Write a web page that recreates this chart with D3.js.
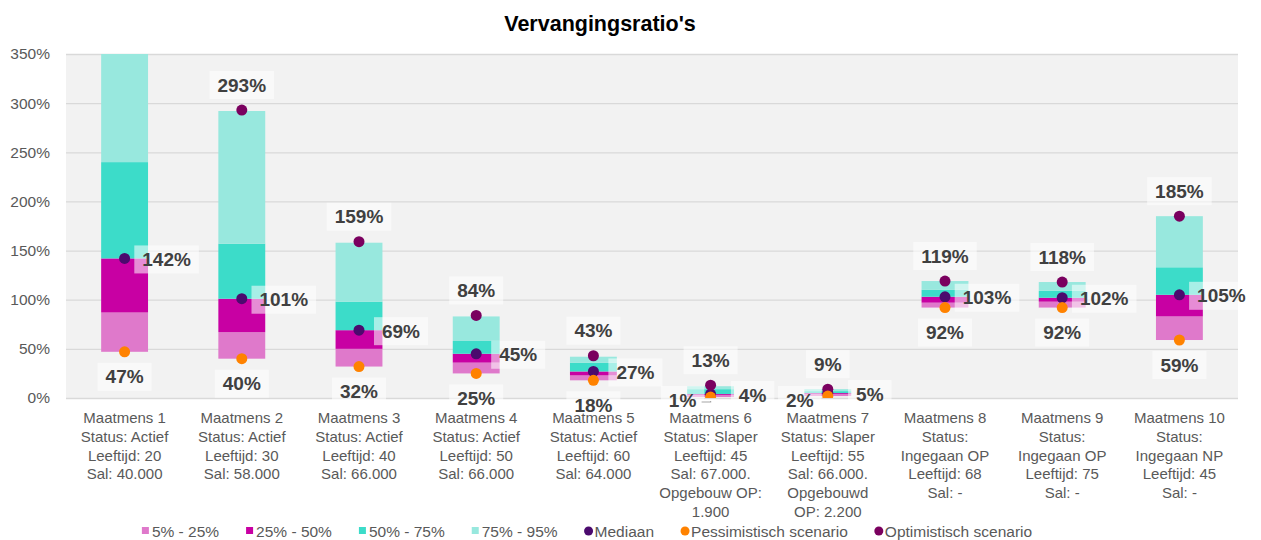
<!DOCTYPE html>
<html lang="nl">
<head>
  <meta charset="UTF-8">
  <title>Vervangingsratio's</title>
  <style>
    body { margin: 0; background: #fff; overflow: hidden; }
    svg { font-family: 'Liberation Sans', Arial, sans-serif; }
    .tick text { fill: #595959; }
    .lbl { font-weight: bold; fill: #404040; }
  </style>
</head>
<body>
  <svg width="1261" height="540"></svg>

  <script src="https://d3js.org/d3.v7.min.js"></script>
  <script>
    // categorieen (regels van het x-as label)
    var categories = [
      ["Maatmens 1", "Status: Actief", "Leeftijd: 20", "Sal: 40.000"],
      ["Maatmens 2", "Status: Actief", "Leeftijd: 30", "Sal: 58.000"],
      ["Maatmens 3", "Status: Actief", "Leeftijd: 40", "Sal: 66.000"],
      ["Maatmens 4", "Status: Actief", "Leeftijd: 50", "Sal: 66.000"],
      ["Maatmens 5", "Status: Actief", "Leeftijd: 60", "Sal: 64.000"],
      ["Maatmens 6", "Status: Slaper", "Leeftijd: 45", "Sal: 67.000.", "Opgebouw OP:", "1.900"],
      ["Maatmens 7", "Status: Slaper", "Leeftijd: 55", "Sal: 66.000.", "Opgebouwd", "OP: 2.200"],
      ["Maatmens 8", "Status:", "Ingegaan OP", "Leeftijd: 68", "Sal: -"],
      ["Maatmens 9", "Status:", "Ingegaan OP", "Leeftijd: 75", "Sal: -"],
      ["Maatmens 10", "Status:", "Ingegaan NP", "Leeftijd: 45", "Sal: -"]
    ];

    // percentielen (in %)
    var p5  = [47, 40, 32, 25, 18, 1, 2, 92, 92, 59];
    var p25 = [87, 67, 50, 36, 23, 3, 4, 97, 98, 83];
    var p50 = [142, 101, 69, 45, 27, 4, 5, 103, 102, 105];
    var p75 = [240, 157, 98, 58, 36, 9, 7, 110, 109, 133];
    var p95 = [380, 292, 158, 83, 42, 12, 9, 119, 118, 185];

    // scenario's
    var mediaan = [142, 101, 69, 45, 27, 4, 5, 103, 102, 105];
    var pessimistisch = [47, 40, 32, 25, 18, 1, 2, 92, 92, 59];
    var optimistisch = [400, 293, 159, 84, 43, 13, 9, 119, 118, 185];

    var yTicks = [0, 50, 100, 150, 200, 250, 300, 350];

    var segNames = ["5% - 25%", "25% - 50%", "50% - 75%", "75% - 95%"];
    var segColors = ["#df79cb", "#c800a3", "#3cdcc9", "#98e8de"];
    var dotNames = ["Mediaan", "Pessimistisch scenario", "Optimistisch scenario"];
    var dotColors = ["#4b0a6e", "#ff8200", "#7a005f"];

    var svg = d3.select("svg");
    var pLeft = 66, pRight = 1238, pTop = 54, pBottom = 398;

    var x = d3.scaleBand()
      .domain(d3.range(categories.length))
      .range([pLeft, pRight])
      .paddingInner(0.6)
      .paddingOuter(0.3);

    var y = d3.scaleLinear().domain([0, 350]).range([pBottom, pTop]);

    // titel
    svg.append("text")
      .attr("x", 600).attr("y", 31)
      .attr("text-anchor", "middle")
      .style("font-size", "21.5px").style("font-weight", "bold")
      .text("Vervangingsratio's");

    // plotgebied
    svg.append("rect")
      .attr("x", pLeft).attr("y", pTop)
      .attr("width", pRight - pLeft).attr("height", pBottom - pTop)
      .attr("fill", "#f2f2f2");

    svg.append("clipPath").attr("id", "clip")
      .append("rect")
      .attr("x", pLeft).attr("y", pTop)
      .attr("width", pRight - pLeft).attr("height", pBottom - pTop);

    // y-as met rasterlijnen
    var yAxis = svg.append("g")
      .attr("transform", "translate(" + pLeft + ",0)")
      .call(d3.axisLeft(y).tickValues(yTicks).tickSize(-(pRight - pLeft))
        .tickPadding(16).tickFormat(function(d) { return d + "%"; }));
    yAxis.select(".domain").remove();
    yAxis.selectAll(".tick line").attr("stroke", "#d9d9d9").attr("stroke-width", 1.3);
    yAxis.selectAll(".tick text").style("font-size", "15.5px");

    // gestapelde staven
    var rows = categories.map(function(c, i) {
      return [p5[i], p25[i], p50[i], p75[i], p95[i]];
    });

    var plot = svg.append("g").attr("clip-path", "url(#clip)");

    segNames.forEach(function(name, s) {
      plot.append("g").selectAll("rect")
        .data(rows)
        .join("rect")
        .attr("x", function(d, i) { return x(i); })
        .attr("width", x.bandwidth())
        .attr("y", function(d) { return y(d[s + 1]); })
        .attr("height", function(d) { return y(d[s]) - y(d[s + 1]); })
        .attr("fill", segColors[s]);
    });

    function cx(i) { return x(i) + x.bandwidth() / 2; }

    // punten
    var dotSeries = [mediaan, optimistisch, pessimistisch];
    var dotCol = [dotColors[0], dotColors[2], dotColors[1]];
    dotSeries.forEach(function(vals, k) {
      plot.append("g").selectAll("circle")
        .data(vals)
        .join("circle")
        .attr("cx", function(d, i) { return cx(i); })
        .attr("cy", function(d) { return y(d); })
        .attr("r", 5.5)
        .attr("fill", dotCol[k]);
    });

    // datalabels
    var labels = svg.append("g");

    function addLabel(txt, xc, yc) {
      var g = labels.append("g");
      var t = g.append("text")
        .attr("class", "lbl")
        .attr("x", xc).attr("y", yc)
        .attr("text-anchor", "middle")
        .attr("dominant-baseline", "central")
        .style("font-size", "19px")
        .text(txt);
      var w = t.node().getComputedTextLength();
      g.insert("rect", "text")
        .attr("x", xc - w / 2 - 8).attr("y", yc - 14)
        .attr("width", w + 16).attr("height", 28)
        .attr("fill", "#fff").attr("fill-opacity", 0.55);
    }

    categories.forEach(function(c, i) {
      var xc = cx(i);
      if (optimistisch[i] <= 350) addLabel(optimistisch[i] + "%", xc, y(optimistisch[i]) - 25);
      addLabel(mediaan[i] + "%", xc + 42, y(mediaan[i]) + 1);
      var short = (p95[i] - p5[i]) < 15;
      if (short) {
        addLabel(pessimistisch[i] + "%", xc - 28, 400);
      } else {
        addLabel(pessimistisch[i] + "%", xc, y(pessimistisch[i]) + 25);
      }
      if (short && i === 5) {
        svg.append("path")
          .attr("d", "M" + xc + "," + (y(pessimistisch[i]) + 4) + "V402H" + (xc - 9))
          .attr("fill", "none").attr("stroke", "#a6a6a6").attr("stroke-width", 1.2);
      }
    });

    // x-as labels
    var xl = svg.append("g");
    categories.forEach(function(lines, i) {
      var t = xl.append("text")
        .attr("x", cx(i)).attr("y", 423)
        .attr("text-anchor", "middle")
        .style("font-size", "15px").attr("fill", "#595959");
      lines.forEach(function(l, j) {
        t.append("tspan").attr("x", cx(i)).attr("dy", j === 0 ? 0 : 18.8).text(l);
      });
    });

    // legenda
    var legItems = segNames.map(function(n, s) { return { name: n, color: segColors[s], shape: "sq" }; })
      .concat(dotNames.map(function(n, k) { return { name: n, color: dotColors[k], shape: "dot" }; }));

    var leg = svg.append("g");
    var lx = 0, gap = 27;
    legItems.forEach(function(it) {
      var g = leg.append("g").attr("transform", "translate(" + lx + ",0)");
      if (it.shape === "sq") {
        g.append("rect").attr("x", 0).attr("y", -4).attr("width", 7).attr("height", 7).attr("fill", it.color);
      } else {
        g.append("circle").attr("cx", 4).attr("cy", 0).attr("r", 4.5).attr("fill", it.color);
      }
      var t = g.append("text").attr("x", 10).attr("y", 0)
        .attr("dominant-baseline", "central")
        .style("font-size", "15.5px").attr("fill", "#595959")
        .text(it.name);
      lx += 10 + t.node().getComputedTextLength() + gap;
    });
    lx -= gap;
    leg.attr("transform", "translate(" + (587 - lx / 2) + ",531)");
  </script>
</body>
</html>
